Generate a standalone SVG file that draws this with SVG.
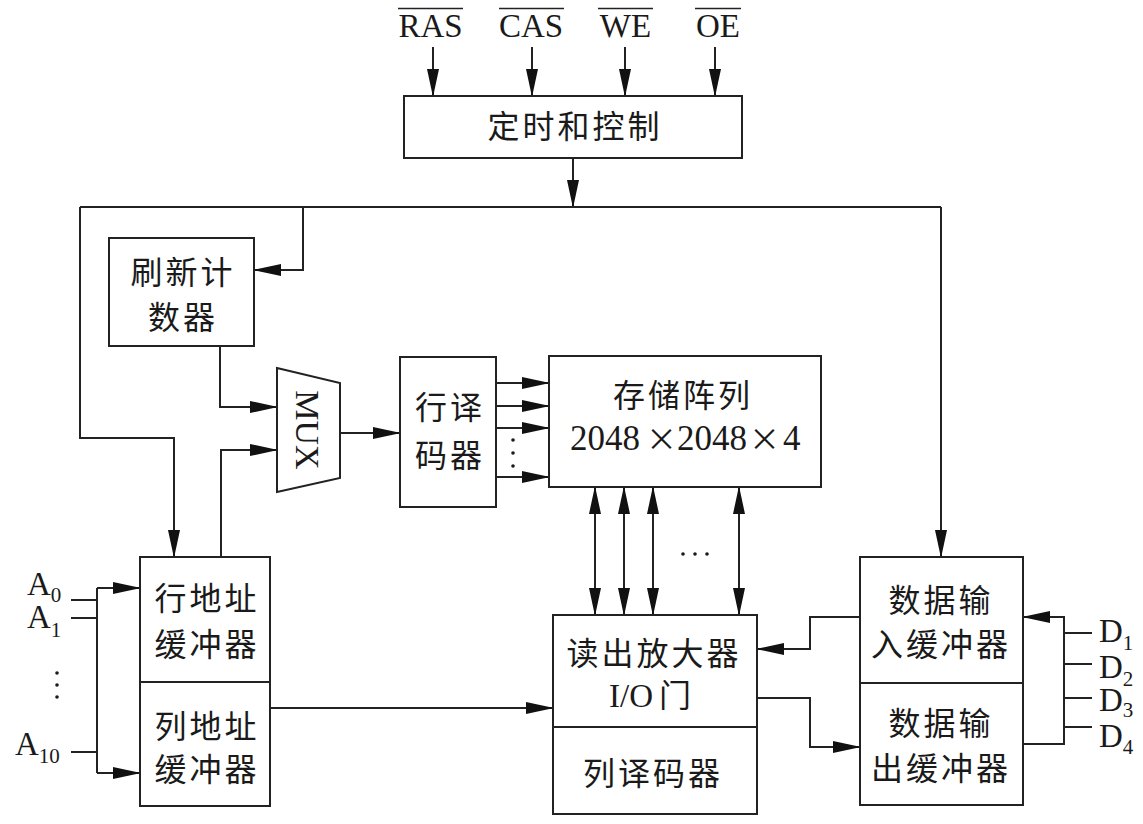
<svg xmlns="http://www.w3.org/2000/svg" width="1143" height="824" viewBox="0 0 1143 824">
<defs>
<style>
.box{fill:#fff;stroke:#222;stroke-width:2}
.ln{fill:none;stroke:#222;stroke-width:2}
.arr{fill:none;stroke:#222;stroke-width:2;marker-end:url(#ah)}
.bi{fill:none;stroke:#222;stroke-width:2;marker-end:url(#ah);marker-start:url(#ahs)}
.cn{font-family:"Noto Sans CJK SC","Noto Sans CJK JP",sans-serif;font-size:32px;letter-spacing:3px;text-anchor:middle;fill:#1a1a1a}
.lat{font-family:"Liberation Serif",serif;font-size:33px;fill:#1a1a1a}
.sub{font-size:21px}
.dot{fill:#1a1a1a}
</style>
<marker id="ah" markerWidth="28" markerHeight="13" refX="27" refY="6.5" orient="auto" markerUnits="userSpaceOnUse"><path d="M0,0.5 L28,6.5 L0,12.5 z" fill="#111"/></marker>
<marker id="ahs" markerWidth="28" markerHeight="13" refX="27" refY="6.5" orient="auto-start-reverse" markerUnits="userSpaceOnUse"><path d="M0,0.5 L28,6.5 L0,12.5 z" fill="#111"/></marker>
</defs>
<rect width="1143" height="824" fill="#fff"/>

<g id="signals">
<text class="lat" x="430.5" y="37" text-anchor="middle">RAS</text>
<text class="lat" x="531" y="37" text-anchor="middle">CAS</text>
<text class="lat" x="625.5" y="37" text-anchor="middle">WE</text>
<text class="lat" x="718" y="37" text-anchor="middle">OE</text>
<path class="ln" style="stroke-width:1.6" d="M398,8.5H463M499,8.5H564M598,8.5H653M695,8.5H741"/>
</g>

<g id="connectors">
<path class="arr" d="M433,47V96"/>
<path class="arr" d="M532,47V96"/>
<path class="arr" d="M625,47V96"/>
<path class="arr" d="M715,47V96"/>
<path class="arr" d="M573,158V207"/>
<path class="ln" d="M80,207H941"/>
<path class="arr" d="M80,207V438H174V557"/>
<path class="arr" d="M941,207V557"/>
<path class="arr" d="M303,207V270H254"/>
<path class="arr" d="M220,346V407H277"/>
<path class="arr" d="M221,557V450H277"/>
<path class="arr" d="M340,433H400"/>
<path class="arr" d="M496,383H549"/>
<path class="arr" d="M496,406H549"/>
<path class="arr" d="M496,428H549"/>
<path class="arr" d="M496,477H549"/>
<path class="bi" d="M595,487V615"/>
<path class="bi" d="M624,487V615"/>
<path class="bi" d="M653,487V615"/>
<path class="bi" d="M739,487V615"/>
<path class="ln" d="M71,600H97M71,618H97M71,752H97"/>
<path class="ln" d="M97,588V773"/>
<path class="arr" d="M97,588H140"/>
<path class="arr" d="M97,773H140"/>
<path class="arr" d="M270,708H553"/>
<path class="arr" d="M860,617H810V649H757"/>
<path class="arr" d="M757,698H810V747H860"/>
<path class="arr" d="M1023,744H1064V617H1023"/>
<path class="ln" d="M1064,633H1092M1064,664H1092M1064,698H1092M1064,727H1092"/>
</g>

<g id="control">
<rect class="box" x="404" y="96" width="338" height="62"/>
<text class="cn" x="575" y="138">定时和控制</text>
</g>

<g id="refresh">
<rect class="box" x="109" y="238" width="145" height="108"/>
<text class="cn" x="183" y="284">刷新计</text>
<text class="cn" x="183" y="329">数器</text>
</g>

<g id="mux">
<path class="box" d="M277,368L340,383V478L277,492z"/>
<text class="lat" transform="translate(296,430) rotate(90)" text-anchor="middle" style="font-size:34px">MUX</text>
</g>

<g id="rowdec">
<rect class="box" x="400" y="357" width="96" height="150"/>
<text class="cn" x="450" y="419">行译</text>
<text class="cn" x="450" y="467">码器</text>
<circle class="dot" cx="513" cy="440" r="1.8"/>
<circle class="dot" cx="513" cy="453" r="1.8"/>
<circle class="dot" cx="513" cy="466" r="1.8"/>
</g>

<g id="array">
<rect class="box" x="549" y="356" width="272" height="131"/>
<text class="cn" x="683" y="407">存储阵列</text>
<text class="lat" y="450" style="font-size:35px"><tspan x="570">2048</tspan><tspan x="646" style="font-family:'Noto Sans CJK SC',sans-serif;font-size:31px">×</tspan><tspan x="677">2048</tspan><tspan x="749" style="font-family:'Noto Sans CJK SC',sans-serif;font-size:31px">×</tspan><tspan x="783">4</tspan></text>
<circle class="dot" cx="683" cy="554" r="1.8"/>
<circle class="dot" cx="695" cy="554" r="1.8"/>
<circle class="dot" cx="707" cy="554" r="1.8"/>
</g>

<g id="addrbuf">
<rect class="box" x="140" y="557" width="130" height="125"/>
<rect class="box" x="140" y="682" width="130" height="124"/>
<text class="cn" x="207" y="610">行地址</text>
<text class="cn" x="207" y="656">缓冲器</text>
<text class="cn" x="207" y="738">列地址</text>
<text class="cn" x="207" y="781">缓冲器</text>
</g>

<g id="addrlabels">
<text class="lat" x="27" y="595">A<tspan class="sub" dy="7">0</tspan></text>
<text class="lat" x="27" y="628">A<tspan class="sub" dy="9">1</tspan></text>
<text class="lat" x="15" y="755">A<tspan class="sub" dy="8">10</tspan></text>
<circle class="dot" cx="57" cy="673" r="1.8"/>
<circle class="dot" cx="57" cy="685" r="1.8"/>
<circle class="dot" cx="57" cy="697" r="1.8"/>
</g>

<g id="sense">
<rect class="box" x="553" y="615" width="204" height="112"/>
<rect class="box" x="553" y="727" width="204" height="87"/>
<text class="cn" x="654" y="665">读出放大器</text>
<text x="650" y="707" text-anchor="middle" class="lat">I/O<tspan dx="6" style="font-family:'Noto Sans CJK SC',sans-serif;font-size:32px">门</tspan></text>
<text class="cn" x="653" y="785">列译码器</text>
</g>

<g id="databuf">
<rect class="box" x="860" y="557" width="163" height="126"/>
<rect class="box" x="860" y="683" width="163" height="122"/>
<text class="cn" x="941" y="612">数据输</text>
<text class="cn" x="941" y="656">入缓冲器</text>
<text class="cn" x="941" y="735">数据输</text>
<text class="cn" x="941" y="780">出缓冲器</text>
</g>

<g id="datalabels">
<text class="lat" x="1099" y="642">D<tspan class="sub" dy="8">1</tspan></text>
<text class="lat" x="1099" y="678">D<tspan class="sub" dy="8">2</tspan></text>
<text class="lat" x="1099" y="711">D<tspan class="sub" dy="6">3</tspan></text>
<text class="lat" x="1099" y="747">D<tspan class="sub" dy="7">4</tspan></text>
</g>
</svg>
